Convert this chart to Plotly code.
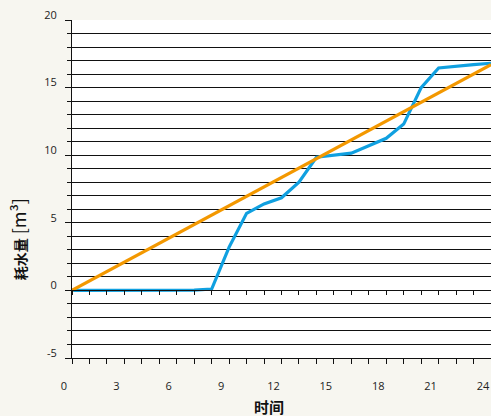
import plotly.graph_objects as go

hours = list(range(25))
usage = [0, 0, 0, 0, 0, 0, 0, 0.02, 0.1, 3.2, 5.7, 6.4, 6.85, 8.0, 9.85, 10.0,
         10.15, 10.7, 11.25, 12.3, 15.0, 16.45, 16.6, 16.7, 16.8]
trend_x = [0, 24]
trend_y = [0, 16.7]
y_ticks = [-5, 0, 5, 10, 15, 20]
y_labels = ['-5', '0', '5', '10', '15', '20']

blue = 'rgb(16,160,224)'
orange = 'rgb(243,152,0)'
ink = '#111'

fig = go.Figure()
fig.add_trace(go.Scatter(x=hours, y=usage, mode='lines',
                         line=dict(color=blue, width=3.2), showlegend=False))
fig.add_trace(go.Scatter(x=trend_x, y=trend_y, mode='lines', xaxis='x2',
                         line=dict(color=orange, width=3.2), showlegend=False))

fig.update_layout(
    width=491, height=416,
    margin=dict(l=72, r=0, t=20, b=58),
    paper_bgcolor='#f7f6f0',
    plot_bgcolor='white',
    font=dict(family='Open Sans', size=11, color='#222'),
    xaxis=dict(
        range=[0, 24], dtick=3, tick0=0,
        showgrid=False, zeroline=False,
        showline=True, linecolor=ink, linewidth=1,
        ticks='outside', ticklen=5, tickcolor=ink,
        minor=dict(dtick=1, ticks='outside', ticklen=5, tickcolor=ink),
        ticklabelstandoff=13, ticklabelshift=-8,
    ),
    xaxis2=dict(
        overlaying='x', anchor='free', position=0.2, side='bottom',
        range=[0, 24], dtick=1, showgrid=False, zeroline=False,
        showline=True, linecolor=ink, linewidth=1,
        ticks='outside', ticklen=4, tickcolor=ink,
        showticklabels=False,
    ),
    yaxis=dict(
        range=[-5, 20], tickmode='array', tickvals=y_ticks, ticktext=y_labels,
        showgrid=True, gridcolor=ink, gridwidth=1, zeroline=False,
        showline=True, linecolor=ink, linewidth=1,
        ticks='outside', ticklen=6, tickcolor=ink,
        minor=dict(dtick=1, tick0=0, ticks='outside', ticklen=4, tickcolor=ink,
                   showgrid=True, gridcolor=ink, gridwidth=1),
        ticklabelstandoff=6, ticklabelshift=-5,
    ),
    annotations=[
        dict(text='<b>耗水量</b><span style="font-size:18px"> [m³]</span>',
             textangle=-90, showarrow=False,
             xref='paper', yref='paper', x=0, y=0.351, xshift=-54,
             xanchor='center', yanchor='middle',
             font=dict(family='Noto Sans CJK SC', size=14, color='#111')),
        dict(text='<b>时间</b>', showarrow=False,
             xref='paper', yref='paper', x=0.471, y=0, yshift=-48,
             xanchor='center', yanchor='middle',
             font=dict(family='Noto Sans CJK SC', size=15, color='#111')),
    ],
)

fig.write_html('out.html', config={'displayModeBar': False},
               post_script="document.body.style.margin='0';")
